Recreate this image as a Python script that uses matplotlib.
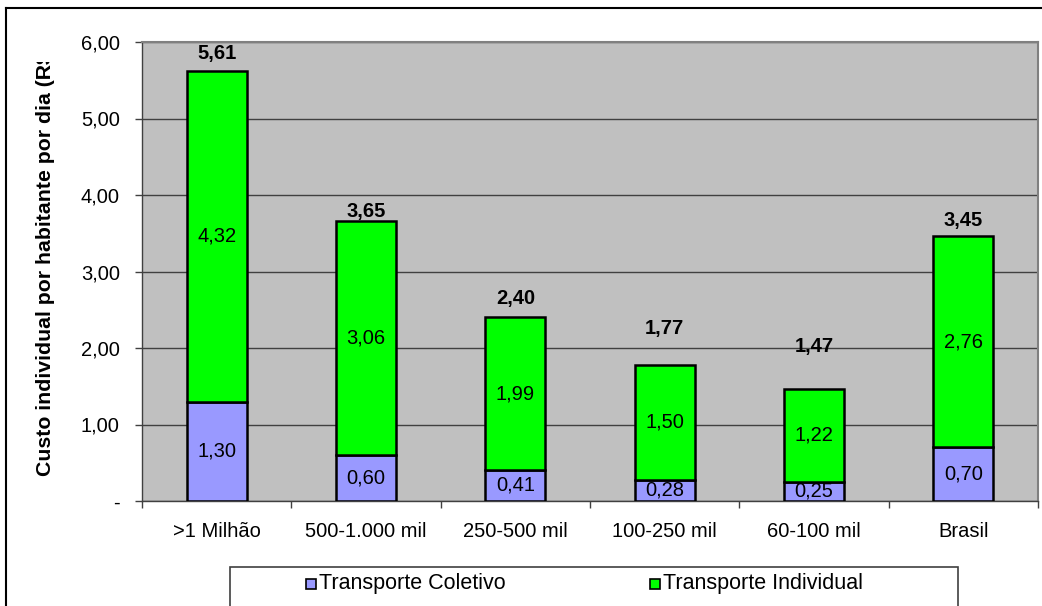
import matplotlib
matplotlib.use("Agg")
import matplotlib.pyplot as plt
from matplotlib.patches import Rectangle
from matplotlib.lines import Line2D
from matplotlib.ticker import FixedLocator, FuncFormatter

categories = [">1 Milhão", "500-1.000 mil", "250-500 mil", "100-250 mil", "60-100 mil", "Brasil"]
coletivo = [1.30, 0.60, 0.41, 0.28, 0.25, 0.70]
individual = [4.32, 3.06, 1.99, 1.50, 1.22, 2.76]
totais = [5.61, 3.65, 2.40, 1.77, 1.47, 3.45]
series_names = ["Transporte Coletivo", "Transporte Individual"]
y_ticks = [0, 1, 2, 3, 4, 5, 6]

# style
total_gap_px = [18, 10, 19, 36, 42, 16]
c_col = "#9999FF"
c_ind = "#00FF00"
W, H = 1042, 606
FS = 14.5

plt.rcParams['font.family'] = ['Liberation Sans', 'DejaVu Sans']

fig = plt.figure(figsize=(W / 100, H / 100), dpi=100)
ax = fig.add_axes([142 / W, 1 - 501 / H, 896 / W, 459 / H])
ax.set_facecolor("#C0C0C0")

def fmt(v):
    return f"{v:.2f}".replace(".", ",")

x = list(range(len(categories)))
bw = 0.4
b1 = ax.bar(x, coletivo, bw, color=c_col, edgecolor="black", linewidth=1.8, zorder=3)
b2 = ax.bar(x, individual, bw, bottom=coletivo, color=c_ind, edgecolor="black", linewidth=1.8, zorder=3)

for i in x:
    ax.text(i, coletivo[i] / 2, fmt(coletivo[i]), ha="center", va="center", fontsize=FS, zorder=4)
    ax.text(i, coletivo[i] + individual[i] / 2, fmt(individual[i]), ha="center", va="center", fontsize=FS, zorder=4)
    top = coletivo[i] + individual[i]
    ax.annotate(fmt(totais[i]), (i, top), xytext=(0, total_gap_px[i] * 0.72),
                textcoords="offset points", ha="center", va="center",
                fontsize=FS, fontweight="bold", zorder=4)

ax.set_xlim(-0.5, len(categories) - 0.5)
ax.set_ylim(0, 6)
ax.yaxis.set_major_locator(FixedLocator(y_ticks))
ax.yaxis.set_major_formatter(FuncFormatter(lambda v, p: "-" if v == 0 else fmt(v)))
ax.grid(axis="y", color="#404040", linewidth=1.0, zorder=1)
ax.set_axisbelow(True)

ax.set_xticks(x)
ax.set_xticklabels(categories)
ax.set_xticks([i - 0.5 for i in range(len(categories) + 1)], minor=True)
ax.tick_params(axis="x", which="major", length=0, pad=15, labelsize=FS)
ax.tick_params(axis="x", which="minor", length=5, width=1, color="#404040", direction="out")
ax.tick_params(axis="y", length=5, width=1, color="#404040", direction="out", pad=11, labelsize=FS)

for s in ["left", "bottom"]:
    ax.spines[s].set_color("#404040")
    ax.spines[s].set_linewidth(1.0)
for s in ["top", "right"]:
    ax.spines[s].set_color("#808080")
    ax.spines[s].set_linewidth(1.5)

# y label, cut at the top like the original (white mask above it)
fig.text(46 / W, 1 - 476 / H, "Custo individual por habitante por dia (R$)",
         rotation=90, ha="center", va="bottom", fontsize=15.3, fontweight="bold", zorder=3)
fig.add_artist(Rectangle((20 / W, 1 - 62 / H), 50 / W, 52 / H, transform=fig.transFigure,
                         facecolor="white", edgecolor="none", zorder=5))

# outer frame (left and top visible)
fig.add_artist(Line2D([6 / W, 6 / W], [0, 1 - 8 / H], transform=fig.transFigure, color="black", linewidth=1.5, zorder=6))
fig.add_artist(Line2D([6 / W, 1], [1 - 8 / H, 1 - 8 / H], transform=fig.transFigure, color="black", linewidth=1.5, zorder=6))

# legend box
fig.add_artist(Rectangle((230 / W, -0.02), 728 / W, 0.02 + (606 - 567) / H, transform=fig.transFigure,
                         facecolor="white", edgecolor="#404040", linewidth=1.2))
ly = 1 - 584 / H
for (sx, name, col) in [(306, series_names[0], c_col), (650, series_names[1], c_ind)]:
    fig.add_artist(Rectangle((sx / W, ly - 5 / H), 10 / W, 10 / H, transform=fig.transFigure,
                             facecolor=col, edgecolor="black", linewidth=1.2))
    fig.text((sx + 13) / W, ly, name, ha="left", va="center", fontsize=15.5)

fig.savefig("out.png", dpi=100)
